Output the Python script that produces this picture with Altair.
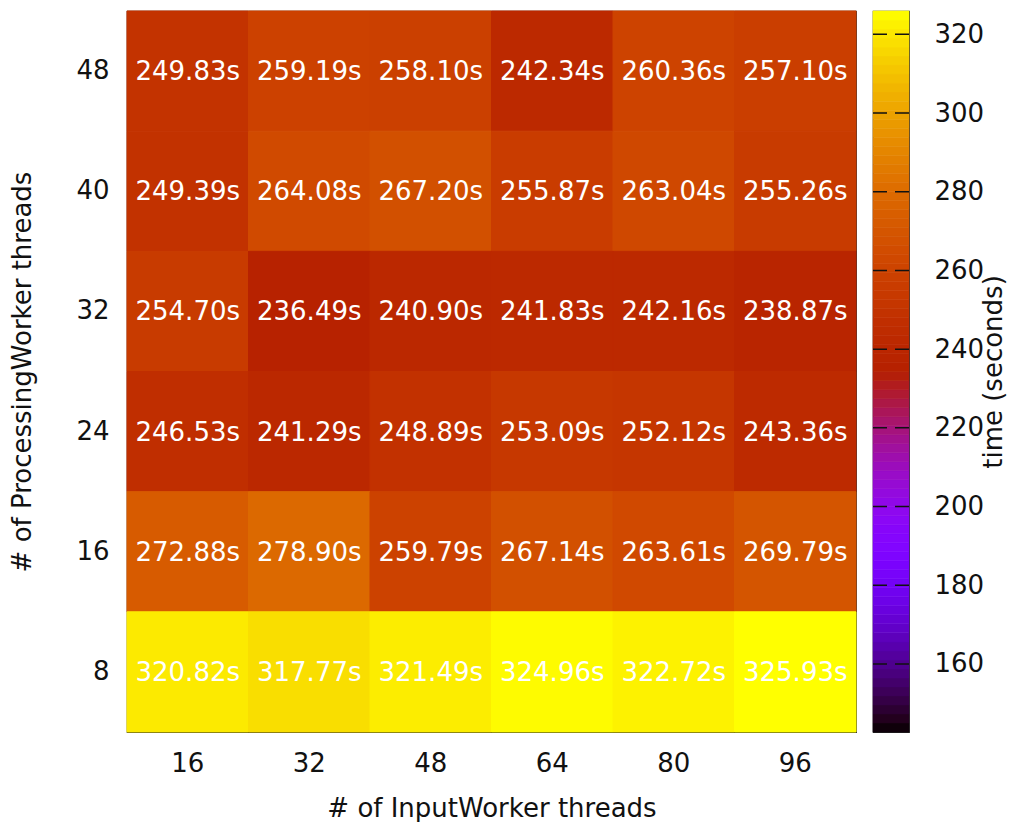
import math
import altair as alt
import pandas as pd

# ---- data ----
input_threads = [16, 32, 48, 64, 80, 96]
processing_threads = [48, 40, 32, 24, 16, 8]
row_48 = [249.83, 259.19, 258.10, 242.34, 260.36, 257.10]
row_40 = [249.39, 264.08, 267.20, 255.87, 263.04, 255.26]
row_32 = [254.70, 236.49, 240.90, 241.83, 242.16, 238.87]
row_24 = [246.53, 241.29, 248.89, 253.09, 252.12, 243.36]
row_16 = [272.88, 278.90, 259.79, 267.14, 263.61, 269.79]
row_8 = [320.82, 317.77, 321.49, 324.96, 322.72, 325.93]
rows = [row_48, row_40, row_32, row_24, row_16, row_8]

cb_min, cb_max = 142.7, 325.93
colorbar_ticks = [160, 180, 200, 220, 240, 260, 280, 300, 320]

FONT = "DejaVu Sans"
FS = 26

records = []
for p, vals in zip(processing_threads, rows):
    for i, v in zip(input_threads, vals):
        records.append({"input": i, "proc": p, "time": v, "label": f"{v:.2f}s"})
df = pd.DataFrame(records)


# gnuplot default palette (rgbformulae 7,5,15)
def gp(x):
    r = math.sqrt(x)
    g = x ** 3
    b = math.sin(2 * math.pi * x)
    c = [min(1, max(0, t)) for t in (r, g, b)]
    return "#%02x%02x%02x" % tuple(int(round(t * 255)) for t in c)


N = 81
stops = [cb_min + (cb_max - cb_min) * k / (N - 1) for k in range(N)]
colors = [gp(k / (N - 1)) for k in range(N)]
color_scale = alt.Scale(domain=stops, range=colors, interpolate="rgb")

W, H = 729, 721

base = alt.Chart(df).encode(
    x=alt.X(
        "input:O",
        sort=input_threads,
        scale=alt.Scale(paddingInner=0, paddingOuter=0),
        axis=alt.Axis(
            title="# of InputWorker threads",
            labelAngle=0,
            ticks=False,
            domain=False,
            labelPadding=18,
            titlePadding=19,
        ),
    ),
    y=alt.Y(
        "proc:O",
        sort=processing_threads,
        scale=alt.Scale(paddingInner=0, paddingOuter=0),
        axis=alt.Axis(
            title="# of ProcessingWorker threads",
            ticks=False,
            domain=False,
            labelPadding=18,
            titlePadding=40,
        ),
    ),
)
rects = base.mark_rect(strokeWidth=1).encode(
    color=alt.Color("time:Q", scale=color_scale, legend=None),
    stroke=alt.Stroke("time:Q", scale=color_scale, legend=None),
)
texts = base.mark_text(color="white", fontSize=FS, font=FONT, dy=1).encode(text="label:N")
heat = (rects + texts).properties(width=W, height=H)

cb_df = pd.DataFrame(
    {
        "v0": stops[:-1],
        "v1": stops[1:],
        "mid": [(a + b) / 2 for a, b in zip(stops[:-1], stops[1:])],
    }
)
cb_y = alt.Scale(domain=[cb_min, cb_max], nice=False, zero=False)
cbar = alt.Chart(cb_df).mark_rect(strokeWidth=0.6).encode(
    x=alt.value(0),
    x2=alt.value(36),
    y=alt.Y(
        "v0:Q",
        scale=cb_y,
        axis=alt.Axis(
            orient="right",
            values=colorbar_ticks,
            title="time (seconds)",
            titleAngle=270,
            ticks=False,
            domain=False,
            grid=False,
            labelPadding=25,
            titlePadding=23,
        ),
    ),
    y2="v1:Q",
    color=alt.Color("mid:Q", scale=color_scale, legend=None),
    stroke=alt.Stroke("mid:Q", scale=color_scale, legend=None),
)
tick_df = pd.DataFrame({"t": colorbar_ticks})
cb_ticks = alt.Chart(tick_df).mark_rule(color="#111", strokeDash=[14, 8], strokeWidth=1.5).encode(
    y=alt.Y("t:Q", scale=cb_y),
    x=alt.value(0),
    x2=alt.value(36),
)
colorbar = (cbar + cb_ticks).properties(width=36, height=H)

chart = (
    alt.hconcat(heat, colorbar, spacing=13)
    .properties(padding={"left": 1, "top": 1, "right": 0, "bottom": 0}, background="white")
    .configure_view(stroke="#222", strokeWidth=1.2)
    .configure_axis(
        labelFont=FONT,
        titleFont=FONT,
        labelFontSize=FS,
        titleFontSize=FS,
        labelColor="#111",
        titleColor="#111",
        titleFontWeight="normal",
    )
)

chart.save("out.html", embed_options={"renderer": "svg", "actions": False})
